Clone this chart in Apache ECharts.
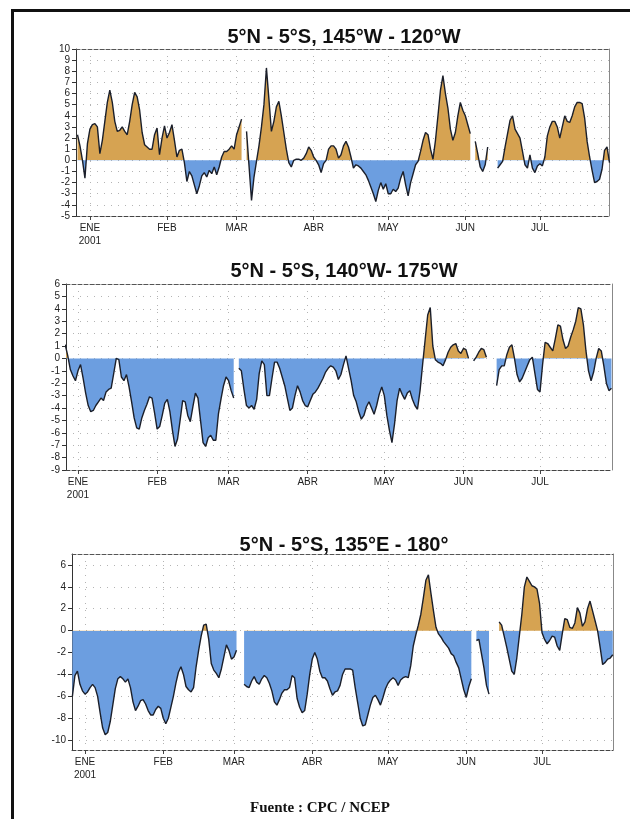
<!DOCTYPE html>
<html>
<head>
<meta charset="utf-8">
<script src="https://cdn.jsdelivr.net/npm/echarts@6/dist/echarts.min.js"></script>
<style>
html,body{margin:0;padding:0;background:#ffffff;}
#chart{width:630px;height:819px;}
</style>
</head>
<body>
<div id="chart"></div>
<script>
// ---------------- DATA ----------------
// daily values, first value is day -5 relative to 1 ENE 2001 (27 Dec 2000)
const firstDay = -5;
const monthTicks = [0, 31, 59, 90, 120, 151, 181];
const monthLabels = ['ENE', 'FEB', 'MAR', 'ABR', 'MAY', 'JUN', 'JUL'];
const yearLabel = '2001';
const panelTitles = ['5°N - 5°S, 145°W - 120°W', '5°N - 5°S, 140°W- 175°W', '5°N - 5°S, 135°E - 180°'];
const sourceText = 'Fuente : CPC / NCEP';

const yTicks1 = [-5, -4, -3, -2, -1, 0, 1, 2, 3, 4, 5, 6, 7, 8, 9, 10];
const yTicks2 = [-9, -8, -7, -6, -5, -4, -3, -2, -1, 0, 1, 2, 3, 4, 5, 6];
const yTicks3 = [-10, -8, -6, -4, -2, 0, 2, 4, 6];

const values145W120W = [
  2.3, 1.3, 0.0, -1.6, 1.5, 2.8, 3.2, 3.3, 3.0, 0.6,
  1.8, 3.5, 5.2, 6.3, 5.2, 3.5, 2.6, 2.7, 3.0, 2.6,
  2.3, 3.5, 5.0, 6.1, 5.7, 4.5, 2.5, 1.4, 1.2, 1.0,
  1.0, 2.3, 2.9, 0.5, 2.0, 3.1, 2.0, 2.5, 3.2, 1.8,
  0.3, 0.9, 1.0, -0.2, -1.9, -1.0, -1.4, -2.2, -3.0, -2.3,
  -1.4, -1.1, -1.5, -0.9, -1.2, -0.6, -1.3, -0.6, 0.3, 0.8,
  0.8, 1.0, 1.3, 1.0, 2.3, 3.0, 3.7, null, 2.6, -0.5,
  -3.6, -1.5, -0.1, 1.3, 3.0, 5.0, 8.3, 5.5, 2.6, 3.5,
  4.8, 5.3, 4.0, 2.5, 1.0, -0.2, -0.6, 0.0, 0.1, 0.1,
  0.0, 0.2, 0.6, 1.2, 0.9, 0.3, 0.0, -0.4, -1.1, -0.3,
  0.0, 1.0, 1.3, 1.3, 1.0, 0.2, 0.5, 1.3, 1.7, 1.2,
  0.3, -0.7, -0.4, -0.5, -0.7, -1.0, -1.3, -1.8, -2.4, -3.0,
  -3.7, -2.7, -2.0, -2.6, -2.1, -3.0, -3.0, -2.6, -2.8, -2.5,
  -1.6, -1.0, -2.2, -3.2, -2.0, -1.2, -0.4, -0.1, 0.8, 1.8,
  2.5, 2.3, 1.0, 0.1, 1.8, 4.0, 6.3, 7.6, 6.0, 4.7,
  2.8, 1.8, 2.5, 4.0, 5.2, 4.5, 4.0, 3.2, 2.4, null,
  1.7, 0.6, -0.6, -1.0, -0.4, 1.2, null, null, null, -0.7,
  -0.4, -0.1, 1.2, 2.4, 3.6, 4.0, 2.8, 2.4, 2.0, 0.8,
  -0.4, -0.7, 0.5, -0.7, -1.1, -0.5, -0.3, -0.5, 0.3, 2.2,
  3.0, 3.5, 3.5, 3.0, 2.0, 3.0, 4.0, 3.5, 3.4, 4.0,
  4.8, 5.2, 5.2, 5.1, 3.8, 1.7, 0.3, -0.9, -2.0, -1.9,
  -1.7, -0.8, 0.9, 1.2, -0.2
];

const values140W175W = [
  1.1, 0.2, -0.9, -1.4, -1.8, -1.0, -0.5, -1.6, -2.8, -3.8,
  -4.3, -4.2, -3.8, -3.5, -3.2, -3.4, -2.7, -2.5, -2.4, -1.2,
  0.0, -0.1, -1.5, -1.8, -1.3, -2.3, -3.5, -4.8, -5.6, -5.7,
  -4.8, -4.2, -3.7, -3.1, -3.2, -4.4, -5.7, -5.5, -4.6, -3.6,
  -3.3, -4.3, -5.8, -7.1, -6.5, -5.0, -3.4, -3.5, -4.6, -5.1,
  -3.9, -2.8, -3.2, -5.0, -6.8, -7.1, -6.4, -6.2, -6.6, -6.6,
  -4.5, -3.3, -2.2, -1.5, -1.8, -2.6, -3.2, null, -0.8, -1.0,
  -2.5, -3.8, -4.0, -3.8, -4.1, -3.3, -1.2, -0.2, -0.5, -3.0,
  -3.0, -1.6, -0.3, -0.3, -0.8, -1.5, -2.2, -3.2, -4.2, -4.0,
  -3.0, -2.2, -2.7, -3.4, -3.8, -3.9, -3.4, -2.9, -2.7, -2.4,
  -2.0, -1.6, -1.1, -0.8, -0.6, -0.7, -1.0, -1.7, -1.3, -0.5,
  0.2, -0.8, -1.8, -3.0, -3.5, -4.3, -4.9, -4.6, -3.9, -3.5,
  -4.0, -4.5, -3.8, -2.9, -2.3, -3.0, -4.6, -5.8, -6.8, -5.3,
  -3.4, -2.4, -2.9, -3.3, -2.8, -2.6, -3.3, -3.8, -4.1, -2.6,
  -0.5, 1.5, 3.5, 4.1, 1.0, -0.1, -0.3, -0.4, -0.6, -0.1,
  0.5, 0.9, 1.1, 1.2, 0.6, 0.4, 0.8, 0.7, 0.0, null,
  -0.2, 0.1, 0.5, 0.8, 0.7, 0.1, null, null, null, -2.2,
  -0.9, -0.6, -0.6, 0.3, 0.9, 1.1, 0.0, -1.3, -1.9, -1.6,
  -1.1, -0.6, -0.1, 0.1, -1.2, -2.5, -2.7, -0.5, 1.3, 1.2,
  0.9, 0.6, 1.6, 2.7, 2.6, 1.5, 0.8, 1.0, 1.7, 2.3,
  3.0, 4.1, 4.0, 2.7, 0.6, -1.0, -1.8, -1.1, 0.0, 0.8,
  0.6, -0.6, -2.0, -2.6, -2.4
];

const values135E180 = [
  -6.0, -4.1, -3.7, -4.9, -5.5, -5.8, -5.6, -5.2, -4.9, -5.2,
  -6.0, -7.5, -8.9, -9.5, -9.3, -8.3, -6.8, -5.3, -4.4, -4.2,
  -4.4, -4.7, -4.4, -5.2, -6.5, -7.3, -6.9, -6.4, -6.3, -6.7,
  -7.3, -7.7, -7.7, -7.2, -6.9, -7.1, -8.0, -8.5, -8.0, -7.0,
  -6.0, -4.8, -3.8, -3.3, -4.0, -5.1, -5.4, -5.6, -5.2, -3.3,
  -1.8, -0.5, 0.5, 0.6, -0.8, -3.0, -3.6, -3.9, -4.3, -3.5,
  -2.4, -1.3, -1.8, -2.6, -2.4, -1.8, null, null, -4.9, -5.1,
  -5.2, -4.6, -4.2, -4.7, -4.9, -4.4, -4.1, -4.3, -4.8, -5.5,
  -6.5, -6.8, -6.3, -5.7, -5.4, -5.4, -5.2, -4.1, -4.3, -6.2,
  -7.0, -7.5, -7.3, -5.8, -4.0, -2.6, -2.0, -2.6, -3.7, -4.3,
  -4.3, -4.6, -5.3, -5.9, -5.6, -5.5, -5.0, -4.0, -3.5, -3.5,
  -3.5, -3.6, -5.2, -6.6, -8.0, -8.7, -8.6, -7.7, -6.8, -6.1,
  -5.9, -6.3, -6.8, -6.1, -5.3, -4.8, -4.5, -4.3, -4.5, -5.0,
  -4.5, -4.3, -4.2, -4.3, -3.2, -1.4, -0.4, 0.5, 1.5, 3.0,
  4.6, 5.1, 3.4, 1.8, 0.3, -0.3, -0.6, -1.0, -1.3, -1.6,
  -2.1, -2.3, -2.9, -3.4, -4.4, -5.4, -6.1, -5.1, -4.4, null,
  -0.9, -0.8, -2.1, -3.4, -5.0, -5.8, null, null, null, 0.8,
  0.5, -0.5, -1.5, -2.6, -3.7, -4.0, -2.5, -0.5, 1.5, 4.0,
  4.9, 4.5, 4.1, 4.0, 3.8, 2.5, -0.2, -0.8, -1.2, -0.9,
  -0.5, -0.6, -1.4, -1.8, -0.3, 1.1, 1.0, 0.3, 0.2, 0.7,
  2.1, 1.6, 0.4, 0.8, 2.0, 2.7, 1.8, 0.9, 0.0, -1.5,
  -3.1, -2.9, -2.6, -2.5, -2.2
];

// ---------------- LAYOUT / STYLE ----------------
const COLOR_POS = '#D6A352';
const COLOR_NEG = '#6C9EE0';
const LINE_COLOR = '#1b1f2a';
const FONT = '"Liberation Sans", Arial, sans-serif';

const panels = [
  { values: values145W120W, yTicks: yTicks1, yMin: -5, yMax: 10, xMin: -5.6, xMax: 208.8,
    grid: { left: 76, top: 49, width: 533, height: 167 }, titleY: 37 },
  { values: values140W175W, yTicks: yTicks2, yMin: -9, yMax: 6, xMin: -4.7, xMax: 209.2,
    grid: { left: 66, top: 284, width: 546, height: 186 }, titleY: 271 },
  { values: values135E180, yTicks: yTicks3, yMin: -10.9, yMax: 7, xMin: -5.15, xMax: 209.1,
    grid: { left: 72, top: 554, width: 541, height: 196 }, titleY: 545 }
];

function toPairs(vals) {
  return vals.map((v, i) => [firstDay + i, v]);
}

// two-colour fill split at the zero line of the panel's own value axis
function zeroSplitFill(p) {
  const top = p.grid.top, bottom = p.grid.top + p.grid.height;
  const f = p.yMax / (p.yMax - p.yMin);
  return new echarts.graphic.LinearGradient(0, top, 0, bottom, [
    { offset: 0, color: COLOR_POS },
    { offset: f, color: COLOR_POS },
    { offset: f, color: COLOR_NEG },
    { offset: 1, color: COLOR_NEG }
  ], true);
}

const grids = [], xAxes = [], yAxes = [], series = [], graphics = [];
panels.forEach((p, i) => {
  grids.push(Object.assign({ containLabel: false }, p.grid));
  xAxes.push({
    gridIndex: i, type: 'value', min: p.xMin, max: p.xMax, position: 'bottom',
    axisLine: { show: true, onZero: false, lineStyle: { color: '#444', width: 1, type: [4, 2] } },
    axisTick: { show: true, customValues: monthTicks, length: 4, lineStyle: { color: '#444' } },
    axisLabel: {
      show: true, customValues: monthTicks, margin: 6, fontSize: 10, color: '#222', fontFamily: FONT,
      lineHeight: 13,
      formatter: function (v) {
        const k = monthTicks.indexOf(Math.round(v));
        if (k < 0) return '';
        return k === 0 ? monthLabels[k] + '\n' + yearLabel : monthLabels[k];
      }
    },
    splitLine: { show: true, lineStyle: { color: '#b4b4b4', width: 1, type: [1, 6] } }
  });
  xAxes.push({
    gridIndex: i, type: 'value', min: p.xMin, max: p.xMax, position: 'top',
    axisLine: { show: true, onZero: false, lineStyle: { color: '#555', width: 1, type: [4, 2] } },
    axisTick: { show: false }, axisLabel: { show: false }, splitLine: { show: false }
  });
  yAxes.push({
    gridIndex: i, type: 'value', min: p.yMin, max: p.yMax, position: 'left',
    axisLine: { show: true, onZero: false, lineStyle: { color: '#333', width: 1 } },
    axisTick: { show: true, customValues: p.yTicks, length: 4, lineStyle: { color: '#333' } },
    axisLabel: { show: true, customValues: p.yTicks, margin: 6, fontSize: 10, color: '#222', fontFamily: FONT },
    splitLine: { show: true, lineStyle: { color: '#b4b4b4', width: 1, type: [1, 6] } }
  });
  yAxes.push({
    gridIndex: i, type: 'value', min: p.yMin, max: p.yMax, position: 'right',
    axisLine: { show: true, onZero: false, lineStyle: { color: '#888', width: 1 } },
    axisTick: { show: false }, axisLabel: { show: false }, splitLine: { show: false }
  });
  const data = toPairs(p.values);
  series.push({
    type: 'line', xAxisIndex: 2 * i, yAxisIndex: 2 * i, data: data,
    showSymbol: false, symbol: 'none', connectNulls: false, silent: true,
    lineStyle: { width: 0, opacity: 0 },
    itemStyle: { color: COLOR_NEG },
    areaStyle: { opacity: 1, origin: 0, color: zeroSplitFill(p) },
    z: 2
  });
  series.push({
    type: 'line', xAxisIndex: 2 * i, yAxisIndex: 2 * i, data: data,
    showSymbol: false, symbol: 'none', connectNulls: false, silent: true,
    lineStyle: { width: 1.4, color: LINE_COLOR },
    itemStyle: { color: LINE_COLOR },
    z: 3
  });
  graphics.push({
    type: 'text', x: 344, y: p.titleY,
    style: { text: panelTitles[i], font: 'bold 20px ' + FONT, fill: '#111', align: 'center', verticalAlign: 'middle' }
  });
});

graphics.push({
  type: 'text', x: 320, y: 808,
  style: { text: sourceText, font: 'bold 15px "Liberation Serif", "Times New Roman", serif', fill: '#111', align: 'center', verticalAlign: 'middle' }
});
graphics.push({ type: 'line', shape: { x1: 12, y1: 10.5, x2: 640, y2: 10.5 }, style: { stroke: '#111', lineWidth: 3 } });
graphics.push({ type: 'line', shape: { x1: 12.5, y1: 9, x2: 12.5, y2: 830 }, style: { stroke: '#111', lineWidth: 3 } });

const chart = echarts.init(document.getElementById('chart'), null, { renderer: 'canvas' });
chart.setOption({
  animation: false,
  backgroundColor: '#ffffff',
  grid: grids,
  xAxis: xAxes,
  yAxis: yAxes,
  series: series,
  graphic: graphics
});
</script>
</body>
</html>
